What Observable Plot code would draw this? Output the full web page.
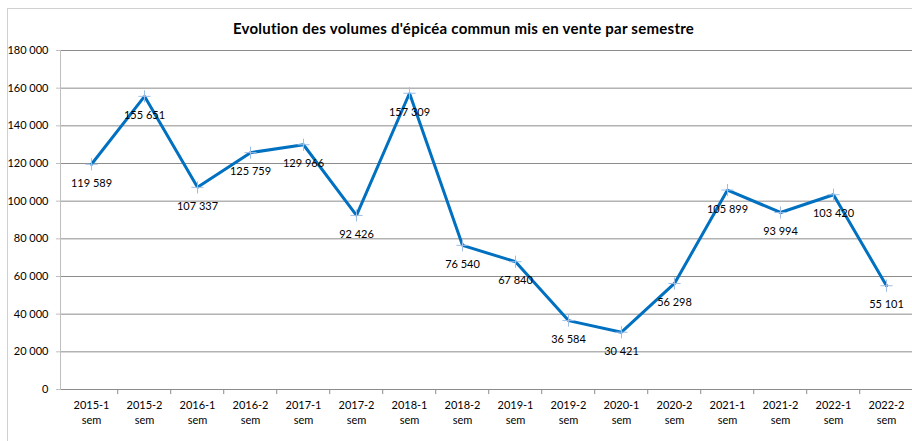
<!DOCTYPE html>
<html>
<head>
<meta charset="utf-8">
<script src="https://cdn.jsdelivr.net/npm/d3@7"></script>
<script src="https://cdn.jsdelivr.net/npm/@observablehq/plot@0.6"></script>
<style>
  html, body { margin: 0; padding: 0; background: #fff; overflow: hidden; }
  #wrap { position: relative; width: 912px; height: 441px; overflow: hidden; font-family: Lato, "Open Sans", sans-serif; }
  #border { position: absolute; left: 7px; top: 8px; width: 1000px; height: 1000px; border: 1px solid #d0d0d0; box-sizing: border-box; }
  #title { position: absolute; left: 0; width: 927px; top: 19px; text-align: center; font-weight: bold; font-size: 15px; letter-spacing: 0.25px; color: #000; }
  #chart { position: absolute; left: 0; top: 0; }
</style>
</head>
<body>
<div id="wrap">
  <div id="border"></div>
  <div id="chart"></div>
  <div id="title">Evolution des volumes d'épicéa commun mis en vente par semestre</div>
</div>
<script>
const periods = ["2015-1","2015-2","2016-1","2016-2","2017-1","2017-2","2018-1","2018-2","2019-1","2019-2","2020-1","2020-2","2021-1","2021-2","2022-1","2022-2"];
const volumes = [119589,155651,107337,125759,129966,92426,157309,76540,67840,36584,30421,56298,105899,93994,103420,55101];
const yTicks = [0,20000,40000,60000,80000,100000,120000,140000,160000,180000];
const periodSuffix = "sem";

const data = periods.map((p, i) => ({period: p, volume: volumes[i]}));
const fmt = d3.formatLocale({decimal: ",", thousands: "\u00a0", grouping: [3], currency: ["", ""]}).format(",");

const xRange = [60, 917];
const step = (xRange[1] - xRange[0]) / periods.length;

const chart = Plot.plot({
  width: 912,
  height: 441,
  marginTop: 50,
  marginBottom: 52,
  marginLeft: 60,
  marginRight: 0,
  style: {fontFamily: "Lato, 'Open Sans', sans-serif", fontSize: "11px", background: "transparent", overflow: "visible"},
  x: {type: "point", domain: periods, range: xRange, padding: 0.5},
  y: {domain: [0, 180000], ticks: yTicks},
  marks: [
    Plot.ruleY(yTicks, {stroke: "#8c8c8c", strokeWidth: 1}),
    Plot.frame({anchor: "left", stroke: "#bfbfbf"}),
    Plot.ruleX(periods.slice(1), {x: d => d, dx: -step / 2, y1: 0, y2: -2700, stroke: "#8c8c8c"}),
    Plot.ruleX([periods[periods.length - 1]], {dx: step / 2, y1: 0, y2: -2700, stroke: "#8c8c8c"}),
    Plot.axisY({ticks: yTicks, tickFormat: fmt, tickSize: 4, tickPadding: 8, stroke: "#bfbfbf", fill: "#000", label: null, fontSize: 11}),
    Plot.axisX({tickFormat: d => d + "\n" + periodSuffix, tickSize: 0, tickPadding: 9, fill: "#000", label: null, fontSize: 11, lineHeight: 1.35}),
    Plot.line(data, {x: "period", y: "volume", stroke: "#0070c0", strokeWidth: 3, strokeLinejoin: "miter"}),
    Plot.dot(data, {x: "period", y: "volume", symbol: "plus", r: 4, stroke: "#9dbde6", strokeWidth: 1}),
    Plot.text(data, {x: "period", y: "volume", text: d => fmt(d.volume), dy: 19, fill: "#000", fontSize: 11})
  ]
});
document.getElementById("chart").appendChild(chart);
</script>
</body>
</html>
